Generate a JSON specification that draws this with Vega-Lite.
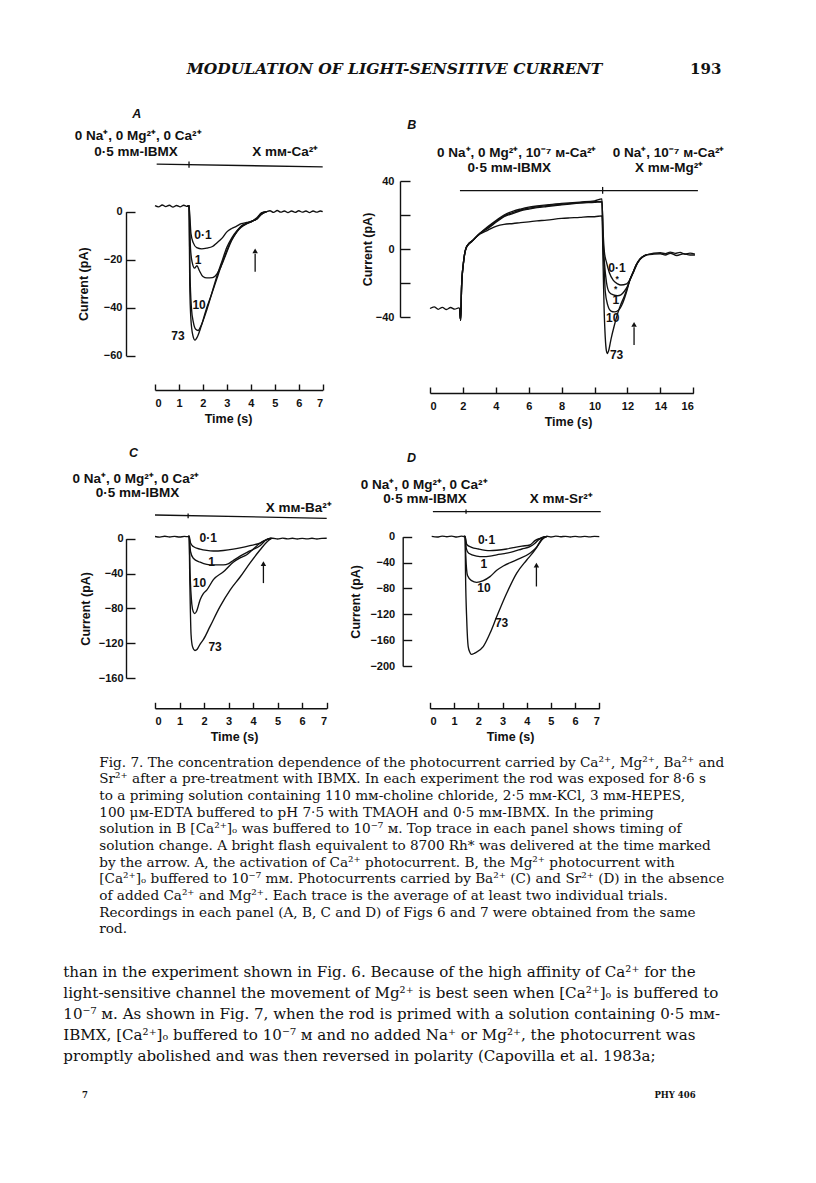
{
"$schema": "https://vega.github.io/schema/vega-lite/v6.json",
"width": 816, "height": 1183, "padding": 0, "autosize": "none",
"background": "white",
"config": {
  "view": {"stroke": null},
  "axis": {"grid": false, "labelFont": "Liberation Sans", "labelFontWeight": "bold", "labelFontSize": 11, "labelColor": "#111",
           "titleFont": "Liberation Sans", "titleFontWeight": "bold", "titleFontSize": 12.5, "titleColor": "#111",
           "domainColor": "#111", "tickColor": "#111", "domainWidth": 1.4, "tickWidth": 1.4}
},
"resolve": {"scale": {"x": "independent", "y": "independent"}, "axis": {"x": "independent", "y": "independent"}},
"datasets": {
  "A": [
    {"s":"73","t":0,"v":2.5},{"s":"73","t":0.15,"v":2.0},{"s":"73","t":0.3,"v":2.8},{"s":"73","t":0.45,"v":2.1},{"s":"73","t":0.6,"v":2.7},{"s":"73","t":0.75,"v":1.9},{"s":"73","t":0.9,"v":2.6},{"s":"73","t":1.05,"v":2.0},{"s":"73","t":1.2,"v":2.7},{"s":"73","t":1.35,"v":2.2},{"s":"73","t":1.42,"v":2.5},{"s":"73","t":1.45,"v":-30},{"s":"73","t":1.5,"v":-45},{"s":"73","t":1.58,"v":-51.5},{"s":"73","t":1.67,"v":-53.5},{"s":"73","t":1.75,"v":-52.5},{"s":"73","t":1.92,"v":-48},{"s":"73","t":2.16,"v":-40},{"s":"73","t":2.34,"v":-35},{"s":"73","t":2.58,"v":-28},{"s":"73","t":2.76,"v":-22.5},{"s":"73","t":2.99,"v":-16.5},{"s":"73","t":3.18,"v":-12},{"s":"73","t":3.41,"v":-8.5},{"s":"73","t":3.6,"v":-6},{"s":"73","t":3.83,"v":-4.8},{"s":"73","t":4.05,"v":-3.8},{"s":"73","t":4.25,"v":-3},{"s":"73","t":4.45,"v":-0.5},{"s":"73","t":4.66,"v":0},
    {"s":"10","t":1.35,"v":2.2},{"s":"10","t":1.42,"v":2.5},{"s":"10","t":1.46,"v":-25},{"s":"10","t":1.52,"v":-40},{"s":"10","t":1.6,"v":-46},{"s":"10","t":1.7,"v":-49},{"s":"10","t":1.8,"v":-49.5},{"s":"10","t":1.92,"v":-47.5},{"s":"10","t":2.16,"v":-41},{"s":"10","t":2.4,"v":-33},{"s":"10","t":2.58,"v":-27},{"s":"10","t":2.8,"v":-20.5},{"s":"10","t":2.99,"v":-15},{"s":"10","t":3.2,"v":-11},{"s":"10","t":3.41,"v":-8},{"s":"10","t":3.6,"v":-6.2},{"s":"10","t":3.83,"v":-5},{"s":"10","t":4.05,"v":-4},{"s":"10","t":4.25,"v":-2.5},{"s":"10","t":4.45,"v":-0.5},{"s":"10","t":4.66,"v":0},
    {"s":"1","t":1.35,"v":2.2},{"s":"1","t":1.42,"v":2.5},{"s":"1","t":1.48,"v":-15},{"s":"1","t":1.55,"v":-21},{"s":"1","t":1.65,"v":-23.5},{"s":"1","t":1.75,"v":-22.5},{"s":"1","t":1.85,"v":-24.5},{"s":"1","t":2.0,"v":-27},{"s":"1","t":2.16,"v":-27.6},{"s":"1","t":2.4,"v":-27.5},{"s":"1","t":2.58,"v":-26},{"s":"1","t":2.75,"v":-23},{"s":"1","t":2.99,"v":-17},{"s":"1","t":3.2,"v":-12},{"s":"1","t":3.41,"v":-8.5},{"s":"1","t":3.6,"v":-6.5},{"s":"1","t":3.83,"v":-5},{"s":"1","t":4.05,"v":-4},{"s":"1","t":4.25,"v":-3},{"s":"1","t":4.45,"v":-1},{"s":"1","t":4.66,"v":0},
    {"s":"0.1","t":1.35,"v":2.2},{"s":"0.1","t":1.42,"v":2.5},{"s":"0.1","t":1.5,"v":-9},{"s":"0.1","t":1.6,"v":-13},{"s":"0.1","t":1.74,"v":-15},{"s":"0.1","t":1.95,"v":-15.5},{"s":"0.1","t":2.16,"v":-15.2},{"s":"0.1","t":2.4,"v":-14.5},{"s":"0.1","t":2.58,"v":-13},{"s":"0.1","t":2.8,"v":-11},{"s":"0.1","t":2.99,"v":-8.5},{"s":"0.1","t":3.2,"v":-7},{"s":"0.1","t":3.41,"v":-6},{"s":"0.1","t":3.6,"v":-5},{"s":"0.1","t":3.83,"v":-4.5},{"s":"0.1","t":4.05,"v":-4},{"s":"0.1","t":4.25,"v":-3},{"s":"0.1","t":4.45,"v":-1},{"s":"0.1","t":4.66,"v":0},{"s":"0.1","t":4.8,"v":0.4},{"s":"0.1","t":4.95,"v":-0.3},{"s":"0.1","t":5.1,"v":0.5},{"s":"0.1","t":5.25,"v":-0.2},{"s":"0.1","t":5.4,"v":0.3},{"s":"0.1","t":5.55,"v":-0.4},{"s":"0.1","t":5.7,"v":0.3},{"s":"0.1","t":5.85,"v":-0.3},{"s":"0.1","t":6.0,"v":0.4},{"s":"0.1","t":6.15,"v":-0.2},{"s":"0.1","t":6.3,"v":0.3},{"s":"0.1","t":6.45,"v":-0.4},{"s":"0.1","t":6.6,"v":0.3},{"s":"0.1","t":6.75,"v":-0.2},{"s":"0.1","t":6.9,"v":0.3},{"s":"0.1","t":7.0,"v":0}
  ],
  "B": [
    {"s":"73","t":0,"v":-35},{"s":"73","t":0.25,"v":-34},{"s":"73","t":0.5,"v":-35.5},{"s":"73","t":0.75,"v":-34.3},{"s":"73","t":1.0,"v":-35.6},{"s":"73","t":1.25,"v":-34.4},{"s":"73","t":1.5,"v":-35.4},{"s":"73","t":1.75,"v":-34.6},{"s":"73","t":1.8,"v":-35},{"s":"73","t":1.86,"v":-42},{"s":"73","t":1.92,"v":-22},{"s":"73","t":2.03,"v":-8.4},{"s":"73","t":2.23,"v":1.4},{"s":"73","t":2.5,"v":4},{"s":"73","t":2.8,"v":7},{"s":"73","t":3.04,"v":8.8},{"s":"73","t":3.5,"v":11},{"s":"73","t":4.05,"v":13.5},{"s":"73","t":4.5,"v":14.5},{"s":"73","t":5.06,"v":15},{"s":"73","t":5.5,"v":15.5},{"s":"73","t":6.0,"v":16},{"s":"73","t":6.5,"v":16.5},{"s":"73","t":7.09,"v":17},{"s":"73","t":8.0,"v":18},{"s":"73","t":8.5,"v":18.3},{"s":"73","t":9.11,"v":18.6},{"s":"73","t":9.6,"v":19},{"s":"73","t":10.0,"v":19},{"s":"73","t":10.45,"v":19.5},{"s":"73","t":10.52,"v":-10},{"s":"73","t":10.58,"v":-35},{"s":"73","t":10.65,"v":-52},{"s":"73","t":10.72,"v":-60},{"s":"73","t":10.77,"v":-61.5},{"s":"73","t":10.85,"v":-60},{"s":"73","t":11.0,"v":-53},{"s":"73","t":11.2,"v":-45},{"s":"73","t":11.4,"v":-38},{"s":"73","t":11.6,"v":-32.5},{"s":"73","t":11.8,"v":-28},{"s":"73","t":11.95,"v":-24},{"s":"73","t":12.15,"v":-18},{"s":"73","t":12.35,"v":-13.5},{"s":"73","t":12.55,"v":-9},{"s":"73","t":12.76,"v":-6},{"s":"73","t":13.16,"v":-3.5},
    {"s":"10","t":1.8,"v":-35},{"s":"10","t":1.86,"v":-42},{"s":"10","t":1.92,"v":-22},{"s":"10","t":2.03,"v":-8.4},{"s":"10","t":2.23,"v":1.4},{"s":"10","t":2.63,"v":5.3},{"s":"10","t":3.04,"v":9.2},{"s":"10","t":3.5,"v":12},{"s":"10","t":4.05,"v":16},{"s":"10","t":4.5,"v":19},{"s":"10","t":5.06,"v":21},{"s":"10","t":5.5,"v":22.5},{"s":"10","t":6.0,"v":23.5},{"s":"10","t":6.5,"v":24.3},{"s":"10","t":7.09,"v":25},{"s":"10","t":8.0,"v":26},{"s":"10","t":9.11,"v":27},{"s":"10","t":10.0,"v":27.5},{"s":"10","t":10.45,"v":27.8},{"s":"10","t":10.52,"v":0},{"s":"10","t":10.58,"v":-10},{"s":"10","t":10.65,"v":-25},{"s":"10","t":10.8,"v":-33},{"s":"10","t":11.0,"v":-36.5},{"s":"10","t":11.2,"v":-37},{"s":"10","t":11.45,"v":-36},{"s":"10","t":11.7,"v":-32},{"s":"10","t":11.95,"v":-25},{"s":"10","t":12.15,"v":-18},{"s":"10","t":12.35,"v":-13.5},{"s":"10","t":12.55,"v":-9},{"s":"10","t":12.76,"v":-6},{"s":"10","t":13.16,"v":-3.5},
    {"s":"1","t":1.8,"v":-35},{"s":"1","t":1.86,"v":-42},{"s":"1","t":1.92,"v":-22},{"s":"1","t":2.03,"v":-8.4},{"s":"1","t":2.23,"v":1.4},{"s":"1","t":2.63,"v":5.3},{"s":"1","t":3.04,"v":9.2},{"s":"1","t":3.5,"v":13},{"s":"1","t":4.05,"v":17},{"s":"1","t":4.5,"v":20},{"s":"1","t":5.06,"v":22.3},{"s":"1","t":5.5,"v":23.5},{"s":"1","t":6.0,"v":24.6},{"s":"1","t":6.5,"v":25.3},{"s":"1","t":7.09,"v":26},{"s":"1","t":8.0,"v":26.8},{"s":"1","t":9.11,"v":27.6},{"s":"1","t":10.0,"v":28.3},{"s":"1","t":10.45,"v":29.5},{"s":"1","t":10.52,"v":5},{"s":"1","t":10.6,"v":-8},{"s":"1","t":10.73,"v":-20},{"s":"1","t":10.9,"v":-25.5},{"s":"1","t":11.14,"v":-27},{"s":"1","t":11.4,"v":-27.5},{"s":"1","t":11.6,"v":-27},{"s":"1","t":11.8,"v":-25},{"s":"1","t":12.0,"v":-22},{"s":"1","t":12.2,"v":-17},{"s":"1","t":12.35,"v":-13.5},{"s":"1","t":12.55,"v":-9},{"s":"1","t":12.76,"v":-6},{"s":"1","t":13.0,"v":-4.2},{"s":"1","t":13.16,"v":-3.5},{"s":"1","t":13.6,"v":-3},{"s":"1","t":14.0,"v":-2.8},{"s":"1","t":14.3,"v":-3.5},{"s":"1","t":14.6,"v":-2.5},{"s":"1","t":15.0,"v":-3.8},{"s":"1","t":15.4,"v":-2.8},{"s":"1","t":15.8,"v":-3.5},{"s":"1","t":16.1,"v":-3.5},
    {"s":"0.1","t":1.8,"v":-35},{"s":"0.1","t":1.86,"v":-42},{"s":"0.1","t":1.92,"v":-22},{"s":"0.1","t":2.03,"v":-8.4},{"s":"0.1","t":2.23,"v":1.4},{"s":"0.1","t":2.63,"v":5.3},{"s":"0.1","t":3.04,"v":9.2},{"s":"0.1","t":3.5,"v":12.5},{"s":"0.1","t":4.05,"v":16.5},{"s":"0.1","t":4.5,"v":19.5},{"s":"0.1","t":5.06,"v":21.5},{"s":"0.1","t":5.5,"v":23},{"s":"0.1","t":6.0,"v":24},{"s":"0.1","t":6.5,"v":24.8},{"s":"0.1","t":7.09,"v":25.5},{"s":"0.1","t":8.0,"v":26.3},{"s":"0.1","t":9.11,"v":27.3},{"s":"0.1","t":10.0,"v":27.8},{"s":"0.1","t":10.45,"v":28},{"s":"0.1","t":10.52,"v":10},{"s":"0.1","t":10.6,"v":-2},{"s":"0.1","t":10.73,"v":-8},{"s":"0.1","t":10.9,"v":-14},{"s":"0.1","t":11.14,"v":-18.5},{"s":"0.1","t":11.4,"v":-20.5},{"s":"0.1","t":11.6,"v":-21.2},{"s":"0.1","t":11.95,"v":-20.5},{"s":"0.1","t":12.15,"v":-18},{"s":"0.1","t":12.35,"v":-14},{"s":"0.1","t":12.55,"v":-9.5},{"s":"0.1","t":12.76,"v":-6},{"s":"0.1","t":13.0,"v":-4},{"s":"0.1","t":13.16,"v":-3.5},{"s":"0.1","t":13.6,"v":-2.5},{"s":"0.1","t":14.0,"v":-2.2},{"s":"0.1","t":14.3,"v":-2.8},{"s":"0.1","t":14.6,"v":-1.8},{"s":"0.1","t":14.9,"v":-2.6},{"s":"0.1","t":15.2,"v":-2},{"s":"0.1","t":15.5,"v":-3},{"s":"0.1","t":15.8,"v":-2.4},{"s":"0.1","t":16.1,"v":-3}
  ],
  "C": [
    {"s":"73","t":0,"v":2.5},{"s":"73","t":0.2,"v":1.8},{"s":"73","t":0.4,"v":2.8},{"s":"73","t":0.6,"v":2.0},{"s":"73","t":0.8,"v":2.6},{"s":"73","t":1.0,"v":1.9},{"s":"73","t":1.2,"v":2.6},{"s":"73","t":1.35,"v":2.3},{"s":"73","t":1.39,"v":3},{"s":"73","t":1.42,"v":-50},{"s":"73","t":1.47,"v":-110},{"s":"73","t":1.53,"v":-124},{"s":"73","t":1.63,"v":-128.4},{"s":"73","t":1.72,"v":-127},{"s":"73","t":1.84,"v":-121},{"s":"73","t":1.97,"v":-116},{"s":"73","t":2.24,"v":-101},{"s":"73","t":2.65,"v":-78},{"s":"73","t":3.06,"v":-59},{"s":"73","t":3.47,"v":-44},{"s":"73","t":3.87,"v":-28},{"s":"73","t":4.28,"v":-13},{"s":"73","t":4.55,"v":-4},{"s":"73","t":4.75,"v":0.5},
    {"s":"10","t":1.35,"v":2.3},{"s":"10","t":1.39,"v":3},{"s":"10","t":1.43,"v":-40},{"s":"10","t":1.5,"v":-75},{"s":"10","t":1.56,"v":-84},{"s":"10","t":1.62,"v":-86},{"s":"10","t":1.7,"v":-83},{"s":"10","t":1.84,"v":-70},{"s":"10","t":1.97,"v":-63},{"s":"10","t":2.11,"v":-59},{"s":"10","t":2.38,"v":-47},{"s":"10","t":2.79,"v":-38},{"s":"10","t":3.19,"v":-27},{"s":"10","t":3.47,"v":-22},{"s":"10","t":3.74,"v":-18.5},{"s":"10","t":4.0,"v":-12},{"s":"10","t":4.28,"v":-5.3},{"s":"10","t":4.55,"v":-1},{"s":"10","t":4.75,"v":0.5},
    {"s":"1","t":1.35,"v":2.3},{"s":"1","t":1.39,"v":3},{"s":"1","t":1.45,"v":-15},{"s":"1","t":1.56,"v":-22.5},{"s":"1","t":1.84,"v":-27},{"s":"1","t":2.11,"v":-29.5},{"s":"1","t":2.38,"v":-30.1},{"s":"1","t":2.79,"v":-30},{"s":"1","t":3.0,"v":-28.5},{"s":"1","t":3.19,"v":-25},{"s":"1","t":3.47,"v":-20},{"s":"1","t":3.87,"v":-14},{"s":"1","t":4.28,"v":-8},{"s":"1","t":4.55,"v":-1},{"s":"1","t":4.75,"v":0.5},
    {"s":"0.1","t":1.35,"v":2.3},{"s":"0.1","t":1.39,"v":3},{"s":"0.1","t":1.45,"v":-5},{"s":"0.1","t":1.56,"v":-9},{"s":"0.1","t":1.84,"v":-12},{"s":"0.1","t":2.11,"v":-13.5},{"s":"0.1","t":2.38,"v":-14.1},{"s":"0.1","t":2.79,"v":-13.5},{"s":"0.1","t":3.19,"v":-12},{"s":"0.1","t":3.47,"v":-10.5},{"s":"0.1","t":3.87,"v":-8},{"s":"0.1","t":4.28,"v":-5},{"s":"0.1","t":4.55,"v":-1},{"s":"0.1","t":4.8,"v":0.5},{"s":"0.1","t":5.0,"v":-0.3},{"s":"0.1","t":5.2,"v":0.6},{"s":"0.1","t":5.4,"v":-0.2},{"s":"0.1","t":5.6,"v":0.5},{"s":"0.1","t":5.8,"v":-0.4},{"s":"0.1","t":6.0,"v":0.4},{"s":"0.1","t":6.2,"v":-0.2},{"s":"0.1","t":6.4,"v":0.5},{"s":"0.1","t":6.6,"v":-0.3},{"s":"0.1","t":6.8,"v":0.3},{"s":"0.1","t":7.0,"v":0.5}
  ],
  "D": [
    {"s":"73","t":0.07,"v":0.5},{"s":"73","t":0.3,"v":-0.5},{"s":"73","t":0.5,"v":1},{"s":"73","t":0.7,"v":0},{"s":"73","t":0.9,"v":1},{"s":"73","t":1.1,"v":-0.5},{"s":"73","t":1.3,"v":0.8},{"s":"73","t":1.42,"v":0.3},{"s":"73","t":1.45,"v":0.5},{"s":"73","t":1.47,"v":-60},{"s":"73","t":1.52,"v":-130},{"s":"73","t":1.58,"v":-170},{"s":"73","t":1.65,"v":-179},{"s":"73","t":1.72,"v":-182},{"s":"73","t":1.85,"v":-180},{"s":"73","t":2.2,"v":-170},{"s":"73","t":2.48,"v":-149.4},{"s":"73","t":2.76,"v":-123.6},{"s":"73","t":3.17,"v":-87.5},{"s":"73","t":3.58,"v":-56.6},{"s":"73","t":4.0,"v":-36},{"s":"73","t":4.34,"v":-20.5},{"s":"73","t":4.48,"v":-12},{"s":"73","t":4.55,"v":-7.7},{"s":"73","t":4.68,"v":-1},{"s":"73","t":4.85,"v":0.5},
    {"s":"10","t":1.42,"v":0.3},{"s":"10","t":1.45,"v":0.5},{"s":"10","t":1.48,"v":-30},{"s":"10","t":1.55,"v":-60},{"s":"10","t":1.72,"v":-68},{"s":"10","t":1.93,"v":-70.6},{"s":"10","t":2.2,"v":-68},{"s":"10","t":2.48,"v":-61.8},{"s":"10","t":2.76,"v":-52},{"s":"10","t":3.03,"v":-45.3},{"s":"10","t":3.58,"v":-36},{"s":"10","t":4.13,"v":-25.7},{"s":"10","t":4.41,"v":-16.4},{"s":"10","t":4.62,"v":-5.1},{"s":"10","t":4.75,"v":-1},{"s":"10","t":4.85,"v":0.5},
    {"s":"1","t":1.42,"v":0.3},{"s":"1","t":1.45,"v":0.5},{"s":"1","t":1.5,"v":-18},{"s":"1","t":1.6,"v":-25.7},{"s":"1","t":1.93,"v":-30},{"s":"1","t":2.2,"v":-30.9},{"s":"1","t":2.48,"v":-30},{"s":"1","t":2.76,"v":-28},{"s":"1","t":3.17,"v":-25.5},{"s":"1","t":3.44,"v":-23},{"s":"1","t":3.8,"v":-19},{"s":"1","t":4.13,"v":-15.4},{"s":"1","t":4.34,"v":-10},{"s":"1","t":4.48,"v":-5.1},{"s":"1","t":4.68,"v":-1},{"s":"1","t":4.85,"v":0.5},
    {"s":"0.1","t":1.42,"v":0.3},{"s":"0.1","t":1.45,"v":0.5},{"s":"0.1","t":1.52,"v":-12},{"s":"0.1","t":1.72,"v":-16.4},{"s":"0.1","t":2.0,"v":-19},{"s":"0.1","t":2.48,"v":-21.6},{"s":"0.1","t":2.76,"v":-21},{"s":"0.1","t":3.17,"v":-19},{"s":"0.1","t":3.44,"v":-17},{"s":"0.1","t":3.8,"v":-14.5},{"s":"0.1","t":4.13,"v":-12.8},{"s":"0.1","t":4.34,"v":-6},{"s":"0.1","t":4.55,"v":-2.5},{"s":"0.1","t":4.7,"v":-0.5},{"s":"0.1","t":4.85,"v":0.5},{"s":"0.1","t":5.0,"v":-0.5},{"s":"0.1","t":5.2,"v":0.8},{"s":"0.1","t":5.4,"v":0},{"s":"0.1","t":5.6,"v":0.6},{"s":"0.1","t":5.8,"v":-0.4},{"s":"0.1","t":6.0,"v":0.5},{"s":"0.1","t":6.2,"v":-0.3},{"s":"0.1","t":6.4,"v":0.6},{"s":"0.1","t":6.6,"v":-0.2},{"s":"0.1","t":6.8,"v":0.4},{"s":"0.1","t":7.0,"v":0}
  ],
  "caption": [
    {"line":0,"text":"Fig. 7. The concentration dependence of the photocurrent carried by Ca²⁺, Mg²⁺, Ba²⁺ and"},
    {"line":1,"text":"Sr²⁺ after a pre-treatment with IBMX. In each experiment the rod was exposed for 8·6 s"},
    {"line":2,"text":"to a priming solution containing 110 mм-choline chloride, 2·5 mм-KCl, 3 mм-HEPES,"},
    {"line":3,"text":"100 μм-EDTA buffered to pH 7·5 with TMAOH and 0·5 mм-IBMX. In the priming"},
    {"line":4,"text":"solution in B [Ca²⁺]ₒ was buffered to 10⁻⁷ м. Top trace in each panel shows timing of"},
    {"line":5,"text":"solution change. A bright flash equivalent to 8700 Rh* was delivered at the time marked"},
    {"line":6,"text":"by the arrow. A, the activation of Ca²⁺ photocurrent. B, the Mg²⁺ photocurrent with"},
    {"line":7,"text":"[Ca²⁺]ₒ buffered to 10⁻⁷ mм. Photocurrents carried by Ba²⁺ (C) and Sr²⁺ (D) in the absence"},
    {"line":8,"text":"of added Ca²⁺ and Mg²⁺. Each trace is the average of at least two individual trials."},
    {"line":9,"text":"Recordings in each panel (A, B, C and D) of Figs 6 and 7 were obtained from the same"},
    {"line":10,"text":"rod."}
  ],
  "body": [
    {"line":0,"text":"than in the experiment shown in Fig. 6. Because of the high affinity of Ca²⁺ for the"},
    {"line":1,"text":"light-sensitive channel the movement of Mg²⁺ is best seen when [Ca²⁺]ₒ is buffered to"},
    {"line":2,"text":"10⁻⁷ м. As shown in Fig. 7, when the rod is primed with a solution containing 0·5 mм-"},
    {"line":3,"text":"IBMX, [Ca²⁺]ₒ buffered to 10⁻⁷ м and no added Na⁺ or Mg²⁺, the photocurrent was"},
    {"line":4,"text":"promptly abolished and was then reversed in polarity (Capovilla et al. 1983a;"}
  ]
},
"layer": [
  {
    "data": {"values": [{"text": "MODULATION OF LIGHT-SENSITIVE CURRENT"}]},
    "mark": {"type": "text", "font": "DejaVu Serif", "fontStyle": "italic", "fontWeight": "bold", "fontSize": 15.5, "align": "center", "baseline": "middle", "color": "#111"},
    "encoding": {
      "x": {"datum": 0, "type": "quantitative", "scale": {"domain": [0, 1], "range": [394.5, 816]}, "axis": null},
      "y": {"datum": 0, "type": "quantitative", "scale": {"domain": [0, 1], "range": [69, 0]}, "axis": null},
      "text": {"field": "text"}
    }
  },
  {
    "data": {"values": [{"text": "193"}]},
    "mark": {"type": "text", "font": "DejaVu Serif", "fontWeight": "bold", "fontSize": 15, "align": "center", "baseline": "middle", "color": "#111"},
    "encoding": {
      "x": {"datum": 0, "type": "quantitative", "scale": {"domain": [0, 1], "range": [705.7, 816]}, "axis": null},
      "y": {"datum": 0, "type": "quantitative", "scale": {"domain": [0, 1], "range": [69, 0]}, "axis": null},
      "text": {"field": "text"}
    }
  },
  {
    "encoding": {
      "x": {"field": "t", "type": "quantitative", "scale": {"domain": [0, 7], "range": [155, 322.7], "nice": false, "zero": false},
            "axis": {"orient": "bottom", "offset": -793, "values": [0,1,2,3,4,5,6,7], "format": "d", "tickSize": -6, "labelPadding": 13, "title": "Time (s)", "titlePadding": 4, "titleX": 228}},
      "y": {"field": "v", "type": "quantitative", "scale": {"domain": [-60, 0], "range": [355.7, 211.7], "nice": false, "zero": false},
            "axis": {"orient": "left", "offset": -126, "values": [-60,-40,-20,0], "tickSize": -9, "labelPadding": 13, "title": "Current (pA)", "titleX": -42.7, "titleBaseline": "middle"}}
    },
    "layer": [
      {"data": {"name": "A"}, "mark": {"type": "line", "color": "#111", "strokeWidth": 1.35, "interpolate": "monotone"}, "encoding": {"detail": {"field": "s"}}},
      {"data": {"values": [{"label":"0·1","t":2.0,"v":-9.7},{"label":"1","t":1.8,"v":-20},{"label":"10","t":1.84,"v":-38.7},{"label":"73","t":0.96,"v":-51.6}]},
       "mark": {"type": "text", "font": "Liberation Sans", "fontWeight": "bold", "fontSize": 12, "baseline": "middle", "color": "#111"}, "encoding": {"text": {"field": "label"}}},
      {"data": {"values": [{"label":"0 Na⁺, 0 Mg²⁺, 0 Ca²⁺","t":-0.70,"v":31.4},{"label":"0·5 mм-IBMX","t":-0.79,"v":24.9},{"label":"X mм-Ca²⁺","t":5.44,"v":24.9}]},
       "mark": {"type": "text", "font": "Liberation Sans", "fontWeight": "bold", "fontSize": 13.5, "baseline": "middle", "color": "#111"}, "encoding": {"text": {"field": "label"}}},
      {"data": {"values": [{"label":"A","t":-0.76,"v":40.8}]},
       "mark": {"type": "text", "font": "Liberation Sans", "fontWeight": "bold", "fontStyle": "italic", "fontSize": 12.5, "baseline": "middle", "color": "#111"}, "encoding": {"text": {"field": "label"}}},
      {"data": {"values": [{"t":0.07,"v":19.8},{"t":7.0,"v":18.7}]}, "mark": {"type": "line", "color": "#111", "strokeWidth": 1.3}, "encoding": {}},
      {"data": {"values": [{"t":1.42,"v":18.3,"v2":20.9},{"t":4.18,"v":-25,"v2":-17.5}]}, "mark": {"type": "rule", "color": "#111", "strokeWidth": 1.3}, "encoding": {"y2": {"field": "v2"}}},
      {"data": {"values": [{"t":4.18,"v":-16.3}]}, "mark": {"type": "point", "shape": "triangle-up", "filled": true, "size": 30, "color": "#111", "opacity": 1}}
    ]
  },
  {
    "encoding": {
      "x": {"field": "t", "type": "quantitative", "scale": {"domain": [0, 16], "range": [430, 693.3], "nice": false, "zero": false},
            "axis": {"orient": "bottom", "offset": -790, "values": [0,2,4,6,8,10,12,14,16], "format": "d", "tickSize": -6, "labelPadding": 13, "title": "Time (s)", "titlePadding": 4, "titleX": 568}},
      "y": {"field": "v", "type": "quantitative", "scale": {"domain": [-40, 40], "range": [317, 181], "nice": false, "zero": false},
            "axis": {"orient": "left", "offset": -400, "values": [-40,-20,0,20,40], "labelExpr": "datum.value % 40 === 0 ? datum.label : ''", "tickSize": -10, "labelPadding": 16, "title": "Current (pA)", "titleX": -32.5, "titleBaseline": "middle"}}
    },
    "layer": [
      {"data": {"name": "B"}, "mark": {"type": "line", "color": "#111", "strokeWidth": 1.35, "interpolate": "monotone"}, "encoding": {"detail": {"field": "s"}}},
      {"data": {"values": [{"label":"0·1","t":11.36,"v":-11.3},{"label":"1","t":11.3,"v":-29.8},{"label":"10","t":11.1,"v":-40.8},{"label":"73","t":11.34,"v":-62.4}]},
       "mark": {"type": "text", "font": "Liberation Sans", "fontWeight": "bold", "fontSize": 12, "baseline": "middle", "color": "#111"}, "encoding": {"text": {"field": "label"}}},
      {"data": {"values": [{"label":"*","t":11.38,"v":-17.6},{"label":"*","t":11.28,"v":-23.6}]},
       "mark": {"type": "text", "font": "Liberation Sans", "fontWeight": "bold", "fontSize": 8.5, "baseline": "middle", "color": "#111"}, "encoding": {"text": {"field": "label"}}},
      {"data": {"values": [{"label":"0 Na⁺, 0 Mg²⁺, 10⁻⁷ м-Ca²⁺","t":5.27,"v":56.3},{"label":"0·5 mм-IBMX","t":4.81,"v":47.5},{"label":"0 Na⁺, 10⁻⁷ м-Ca²⁺","t":14.5,"v":56.3},{"label":"X mм-Mg²⁺","t":14.53,"v":47.5}]},
       "mark": {"type": "text", "font": "Liberation Sans", "fontWeight": "bold", "fontSize": 13.5, "baseline": "middle", "color": "#111"}, "encoding": {"text": {"field": "label"}}},
      {"data": {"values": [{"label":"B","t":-1.11,"v":72.9}]},
       "mark": {"type": "text", "font": "Liberation Sans", "fontWeight": "bold", "fontStyle": "italic", "fontSize": 12.5, "baseline": "middle", "color": "#111"}, "encoding": {"text": {"field": "label"}}},
      {"data": {"values": [{"t":1.82,"v":34.3},{"t":16.28,"v":34.3}]}, "mark": {"type": "line", "color": "#111", "strokeWidth": 1.3}, "encoding": {}},
      {"data": {"values": [{"t":10.49,"v":32.5,"v2":36.5},{"t":12.4,"v":-56.5,"v2":-46}]}, "mark": {"type": "rule", "color": "#111", "strokeWidth": 1.3}, "encoding": {"y2": {"field": "v2"}}},
      {"data": {"values": [{"t":12.4,"v":-44.3}]}, "mark": {"type": "point", "shape": "triangle-up", "filled": true, "size": 30, "color": "#111", "opacity": 1}}
    ]
  },
  {
    "encoding": {
      "x": {"field": "t", "type": "quantitative", "scale": {"domain": [0, 7], "range": [155, 326.7], "nice": false, "zero": false},
            "axis": {"orient": "bottom", "offset": -474.7, "values": [0,1,2,3,4,5,6,7], "format": "d", "tickSize": -6, "labelPadding": 13, "title": "Time (s)", "titlePadding": 4, "titleX": 234}},
      "y": {"field": "v", "type": "quantitative", "scale": {"domain": [-160, 0], "range": [678, 538.7], "nice": false, "zero": false},
            "axis": {"orient": "left", "offset": -126, "values": [-160,-120,-80,-40,0], "tickSize": -9, "labelPadding": 12, "title": "Current (pA)", "titleX": -41, "titleBaseline": "middle"}}
    },
    "layer": [
      {"data": {"name": "C"}, "mark": {"type": "line", "color": "#111", "strokeWidth": 1.35, "interpolate": "monotone"}, "encoding": {"detail": {"field": "s"}}},
      {"data": {"values": [{"label":"0·1","t":2.17,"v":0.5},{"label":"1","t":2.31,"v":-26.4},{"label":"10","t":1.81,"v":-51.2},{"label":"73","t":2.45,"v":-124}]},
       "mark": {"type": "text", "font": "Liberation Sans", "fontWeight": "bold", "fontSize": 12, "baseline": "middle", "color": "#111"}, "encoding": {"text": {"field": "label"}}},
      {"data": {"values": [{"label":"0 Na⁺, 0 Mg²⁺, 0 Ca²⁺","t":-0.78,"v":68.5},{"label":"0·5 mм-IBMX","t":-0.71,"v":52.1},{"label":"X mм-Ba²⁺","t":5.86,"v":34.9}]},
       "mark": {"type": "text", "font": "Liberation Sans", "fontWeight": "bold", "fontSize": 13.5, "baseline": "middle", "color": "#111"}, "encoding": {"text": {"field": "label"}}},
      {"data": {"values": [{"label":"C","t":-0.88,"v":98}]},
       "mark": {"type": "text", "font": "Liberation Sans", "fontWeight": "bold", "fontStyle": "italic", "fontSize": 12.5, "baseline": "middle", "color": "#111"}, "encoding": {"text": {"field": "label"}}},
      {"data": {"values": [{"t":0,"v":27.2},{"t":7.0,"v":23.4}]}, "mark": {"type": "line", "color": "#111", "strokeWidth": 1.3}, "encoding": {}},
      {"data": {"values": [{"t":1.35,"v":23.5,"v2":29},{"t":4.42,"v":-51,"v2":-31}]}, "mark": {"type": "rule", "color": "#111", "strokeWidth": 1.3}, "encoding": {"y2": {"field": "v2"}}},
      {"data": {"values": [{"t":4.42,"v":-28.5}]}, "mark": {"type": "point", "shape": "triangle-up", "filled": true, "size": 30, "color": "#111", "opacity": 1}}
    ]
  },
  {
    "encoding": {
      "x": {"field": "t", "type": "quantitative", "scale": {"domain": [0, 7], "range": [430, 599.3], "nice": false, "zero": false},
            "axis": {"orient": "bottom", "offset": -474.7, "values": [0,1,2,3,4,5,6,7], "format": "d", "tickSize": -6, "labelPadding": 13, "title": "Time (s)", "titlePadding": 4, "titleX": 510}},
      "y": {"field": "v", "type": "quantitative", "scale": {"domain": [-200, 0], "range": [666, 536.7], "nice": false, "zero": false},
            "axis": {"orient": "left", "offset": -402.7, "values": [-200,-160,-120,-80,-40,0], "tickSize": -9, "labelPadding": 17, "title": "Current (pA)", "titleX": -47.7, "titleBaseline": "middle"}}
    },
    "layer": [
      {"data": {"name": "D"}, "mark": {"type": "line", "color": "#111", "strokeWidth": 1.35, "interpolate": "monotone"}, "encoding": {"detail": {"field": "s"}}},
      {"data": {"values": [{"label":"0·1","t":2.34,"v":-5.1},{"label":"1","t":2.23,"v":-42.7},{"label":"10","t":2.23,"v":-79.8},{"label":"73","t":2.96,"v":-134}]},
       "mark": {"type": "text", "font": "Liberation Sans", "fontWeight": "bold", "fontSize": 12, "baseline": "middle", "color": "#111"}, "encoding": {"text": {"field": "label"}}},
      {"data": {"values": [{"label":"0 Na⁺, 0 Mg²⁺, 0 Ca²⁺","t":-0.24,"v":80},{"label":"0·5 mм-IBMX","t":-0.21,"v":57.8},{"label":"X mм-Sr²⁺","t":5.43,"v":57.8}]},
       "mark": {"type": "text", "font": "Liberation Sans", "fontWeight": "bold", "fontSize": 13.5, "baseline": "middle", "color": "#111"}, "encoding": {"text": {"field": "label"}}},
      {"data": {"values": [{"label":"D","t":-0.76,"v":121}]},
       "mark": {"type": "text", "font": "Liberation Sans", "fontWeight": "bold", "fontStyle": "italic", "fontSize": 12.5, "baseline": "middle", "color": "#111"}, "encoding": {"text": {"field": "label"}}},
      {"data": {"values": [{"t":0.12,"v":38.7},{"t":7.06,"v":38.7}]}, "mark": {"type": "line", "color": "#111", "strokeWidth": 1.3}, "encoding": {}},
      {"data": {"values": [{"t":1.49,"v":35.5,"v2":42},{"t":4.4,"v":-77,"v2":-47}]}, "mark": {"type": "rule", "color": "#111", "strokeWidth": 1.3}, "encoding": {"y2": {"field": "v2"}}},
      {"data": {"values": [{"t":4.4,"v":-44}]}, "mark": {"type": "point", "shape": "triangle-up", "filled": true, "size": 30, "color": "#111", "opacity": 1}}
    ]
  },
  {
    "data": {"name": "caption"},
    "mark": {"type": "text", "font": "DejaVu Serif", "fontSize": 13.6, "align": "left", "baseline": "middle", "color": "#111"},
    "encoding": {
      "x": {"datum": 0, "type": "quantitative", "scale": {"domain": [0, 1], "range": [99.3, 727]}, "axis": null},
      "y": {"field": "line", "type": "quantitative", "scale": {"domain": [0, 10], "range": [762.7, 929.4], "nice": false, "zero": false}, "axis": null},
      "text": {"field": "text"}
    }
  },
  {
    "data": {"name": "body"},
    "mark": {"type": "text", "font": "DejaVu Serif", "fontSize": 15.1, "align": "left", "baseline": "middle", "color": "#111"},
    "encoding": {
      "x": {"datum": 0, "type": "quantitative", "scale": {"domain": [0, 1], "range": [63.3, 716.7]}, "axis": null},
      "y": {"field": "line", "type": "quantitative", "scale": {"domain": [0, 4], "range": [971.7, 1055.7], "nice": false, "zero": false}, "axis": null},
      "text": {"field": "text"}
    }
  },
  {
    "data": {"values": [{"text": "7", "slot": "left"}, {"text": "PHY 406", "slot": "right"}]},
    "mark": {"type": "text", "font": "DejaVu Serif", "fontWeight": "bold", "fontSize": 8.5, "align": "center", "baseline": "middle", "color": "#111"},
    "encoding": {
      "x": {"field": "slot", "type": "nominal", "scale": {"type": "point", "domain": ["left", "right"], "range": [85, 675], "padding": 0}, "axis": null},
      "y": {"datum": 0, "type": "quantitative", "scale": {"domain": [0, 1], "range": [1094.5, 0]}, "axis": null},
      "text": {"field": "text"}
    }
  }
]
}
